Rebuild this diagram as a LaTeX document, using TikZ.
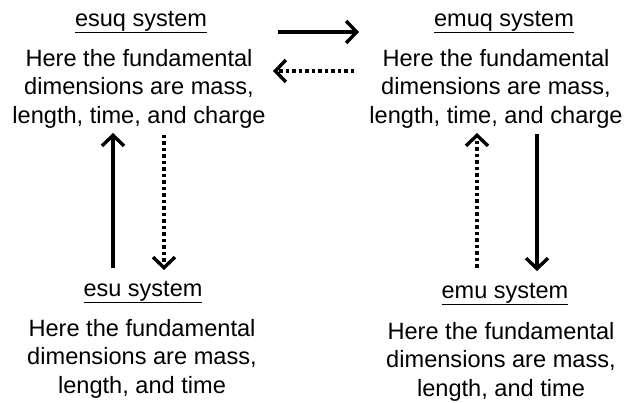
\documentclass[tikz,border=0pt]{standalone}
\usepackage{fontspec}
\setmainfont{Liberation Sans}
\usetikzlibrary{arrows.meta}
\tikzset{
  heading/.style={font=\fontsize{23.5}{26}\selectfont, inner sep=0pt, anchor=center},
  body/.style={font=\fontsize{23.6}{28.7}\selectfont, align=center, inner sep=0pt, anchor=north},
  conn/.style={line width=3.6pt, -{Straight Barb[length=10.5pt,width=22pt,line width=3.4pt]}},
  dotconn/.style={conn, dash pattern=on 3.5pt off 3pt}
}
\begin{document}
\begin{tikzpicture}[x=1pt,y=-1pt]
\useasboundingbox (0,0) rectangle (625,403);
% system headings
\node[heading] (esuq) at (141,22) {\underline{esuq system}};
\node[heading] (emuq) at (504,22) {\underline{emuq system}};
\node[heading] (esu)  at (143,292) {\underline{esu system}};
\node[heading] (emu)  at (505,294) {\underline{emu system}};
% descriptions
\node[body] (esuqtxt) at (139,49) {Here the fundamental\\dimensions are mass,\\length, time, and charge};
\node[body] (emuqtxt) at (496,49) {Here the fundamental\\dimensions are mass,\\length, time, and charge};
\node[body] (esutxt) at (142,319) {Here the fundamental\\dimensions are mass,\\length, and time};
\node[body] (emutxt) at (501,322) {Here the fundamental\\dimensions are mass,\\length, and time};
% connector end points
\coordinate (a1) at (278,32);  \coordinate (a2) at (359,32);
\coordinate (b1) at (354,71);  \coordinate (b2) at (273,71);
\coordinate (c1) at (113,268); \coordinate (c2) at (113,133);
\coordinate (d1) at (164,135); \coordinate (d2) at (164,270);
\coordinate (e1) at (477,268); \coordinate (e2) at (477,133);
\coordinate (f1) at (537,134); \coordinate (f2) at (537,271);
% conversions
\draw[conn] (a1) -- (a2);
\draw[dotconn] (b1) -- (b2);
\draw[conn] (c1) -- (c2);
\draw[dotconn] (d1) -- (d2);
\draw[dotconn] (e1) -- (e2);
\draw[conn] (f1) -- (f2);
\end{tikzpicture}
\end{document}
